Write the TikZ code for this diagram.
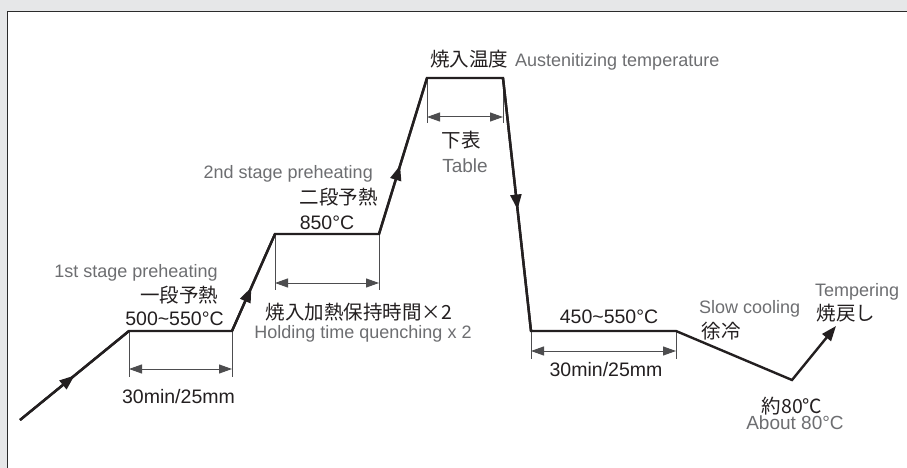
\documentclass[tikz,border=0pt]{standalone}
\usepackage{fontspec}
\setmainfont{Liberation Sans}
\newfontfamily\jp{Noto Sans CJK JP}
\usetikzlibrary{arrows.meta,decorations.markings}
\definecolor{bg}{HTML}{E6E7E8}
\definecolor{ink}{HTML}{231F20}
\definecolor{greytxt}{HTML}{6D6E71}
\definecolor{dimc}{HTML}{4D4D4F}
\definecolor{framec}{HTML}{2B2B2B}
\tikzset{
  curve/.style={line width=2.4pt, draw=ink, line join=miter},
  midarrow/.style={postaction={decorate, decoration={markings,
      mark=at position #1 with {\arrow{Triangle[length=15pt,width=11pt]}}}}},
  dim/.style={line width=1pt, draw=dimc},
  dimarrow/.style={dim, {Triangle[length=13pt,width=9pt]}-{Triangle[length=13pt,width=9pt]}},
  lbl/.style={inner sep=0, text=ink, font=\fontsize{19.5}{22}\selectfont},
  glbl/.style={inner sep=0, text=greytxt, font=\fontsize{18}{22}\selectfont},
  jlbl/.style={inner sep=0, text=ink, font=\jp\fontsize{19.5}{22}\selectfont},
}
\begin{document}
\begin{tikzpicture}[x=1pt,y=-1pt]
\useasboundingbox (0,0) rectangle (907,468);
\fill[bg] (0,0) rectangle (907,468);
\fill[white] (7.5,11.5) rectangle (908,469);
\draw[framec, line width=1.4pt] (7.5,469) -- (7.5,11.5) -- (908,11.5);

% curve corners
\coordinate (s0) at (20,420);
\coordinate (p1) at (129,331);
\coordinate (p2) at (232,331);
\coordinate (p3) at (275,234);
\coordinate (p4) at (379,234);
\coordinate (p5) at (427,78);
\coordinate (p6) at (503,78);
\coordinate (p7) at (531,331);
\coordinate (p8) at (676,331);
\coordinate (p9) at (792,380);
\coordinate (p10) at (836,326);

% dimension coordinates
\coordinate (e1a) at (129,377); \coordinate (e1b) at (232,377);
\coordinate (d1a) at (129,369); \coordinate (d1b) at (232,369);
\coordinate (e2a) at (275,290); \coordinate (e2b) at (379,290);
\coordinate (d2a) at (275,283); \coordinate (d2b) at (379,283);
\coordinate (e3a) at (427,123); \coordinate (e3b) at (503,123);
\coordinate (d3a) at (427,117); \coordinate (d3b) at (503,117);
\coordinate (e4a) at (531,359); \coordinate (e4b) at (676,359);
\coordinate (d4a) at (531,351); \coordinate (d4b) at (676,351);

% dimensions
\draw[dim] (p1) -- (e1a); \draw[dim] (p2) -- (e1b);
\draw[dimarrow] (d1a) -- (d1b);
\draw[dim] (p3) -- (e2a); \draw[dim] (p4) -- (e2b);
\draw[dimarrow] (d2a) -- (d2b);
\draw[dim] (p5) -- (e3a); \draw[dim] (p6) -- (e3b);
\draw[dimarrow] (d3a) -- (d3b);
\draw[dim] (p7) -- (e4a); \draw[dim] (p8) -- (e4b);
\draw[dimarrow] (d4a) -- (d4b);

% main curve
\draw[curve, -{Triangle[length=15pt,width=11pt]}] (s0) -- (p1) -- (p2) -- (p3) -- (p4) -- (p5) -- (p6) -- (p7) -- (p8) -- (p9) -- (p10);
\draw[curve, midarrow=0.5] (s0) -- (p1);
\draw[curve, midarrow=0.45] (p2) -- (p3);
\draw[curve, midarrow=0.44] (p4) -- (p5);
\draw[curve, midarrow=0.52] (p6) -- (p7);

% labels
\node[glbl, anchor=base] (t1) at (136,277) {1st stage preheating};
\node[jlbl, anchor=base] (t2) at (179,302.4) {一段予熱};
\node[lbl, anchor=base] (t3) at (174.5,325) {500\textasciitilde550°C};
\node[lbl, anchor=base] (t4) at (178.5,403) {30min/25mm};

\node[glbl, anchor=base east] (t5) at (373,178) {2nd stage preheating};
\node[jlbl, anchor=base] (t6) at (338.5,204) {二段予熱};
\node[lbl, anchor=base] (t7) at (327,229) {850°C};
\node[jlbl, anchor=base] (t8) at (359,319) {焼入加熱保持時間×2};
\node[glbl, anchor=base] (t9) at (363,338) {Holding time quenching x 2};

\node[jlbl, anchor=base] (t10) at (469,67) {焼入温度};
\node[glbl, anchor=base west] (t11) at (515,66.7) {Austenitizing temperature};
\node[jlbl, anchor=base] (t12) at (461,147.4) {下表};
\node[glbl, anchor=base, font=\fontsize{19}{22}\selectfont] (t13) at (465,172.5) {Table};

\node[lbl, anchor=base] (t14) at (609,323) {450\textasciitilde550°C};
\node[lbl, anchor=base] (t15) at (606,376) {30min/25mm};
\node[glbl, anchor=base west] (t16) at (699,313) {Slow cooling};
\node[jlbl, anchor=base] (t17) at (721,338.4) {徐冷};
\node[glbl, anchor=base west] (t18) at (815,296) {Tempering};
\node[jlbl, anchor=base] (t19) at (846,320) {焼戻し};
\node[jlbl, anchor=base] (t20) at (792,413) {約80℃};
\node[glbl, anchor=base, font=\fontsize{19}{22}\selectfont] (t21) at (795,429.3) {About 80°C};
\end{tikzpicture}
\end{document}
